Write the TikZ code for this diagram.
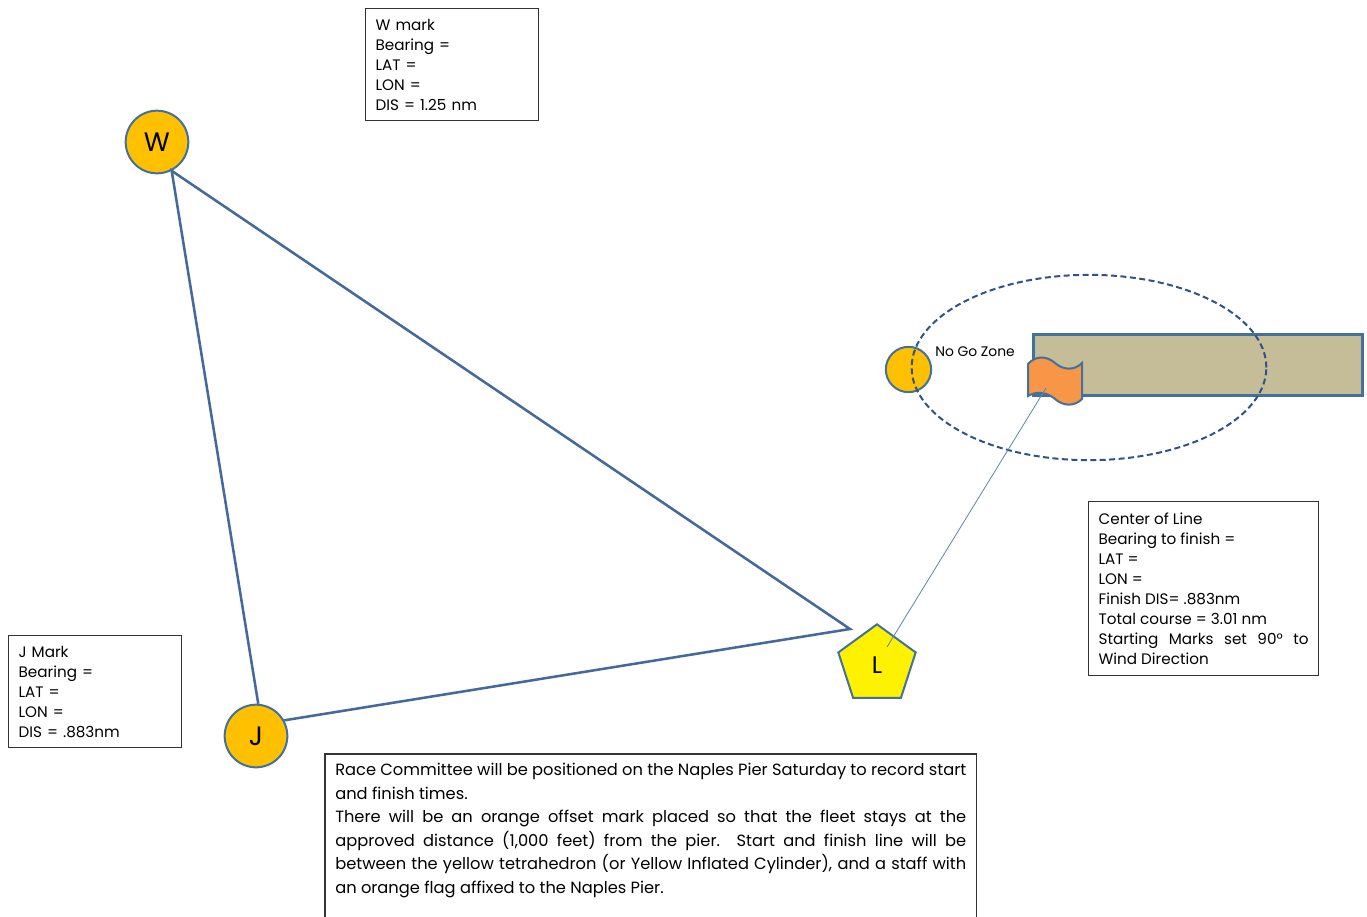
\documentclass[tikz,border=0pt]{standalone}
\usepackage{fontspec}
\setmainfont{Poppins}
\usetikzlibrary{shapes.geometric}
\definecolor{markorange}{HTML}{FFC000}
\definecolor{edgeblue}{HTML}{41719C}
\definecolor{courseblue}{HTML}{46699B}
\definecolor{zoneblue}{HTML}{2F5287}
\definecolor{pierfill}{HTML}{C4BD97}
\definecolor{flagorange}{HTML}{F79646}
\tikzset{
x=0.75pt, y=-0.75pt, % one unit is one pixel of the sketch, y runs downwards
buoy/.style={circle, draw=edgeblue, line width=1.5pt, fill=markorange, minimum size=47pt, inner sep=0pt, font=\fontsize{20}{22}\selectfont}, % the rounding marks
finishmark/.style={regular polygon, regular polygon sides=5, draw=edgeblue, line width=1.5pt, fill=yellow, minimum size=61pt, inner sep=0pt, font=\fontsize{18}{20}\selectfont}, % the start/finish mark
infobox/.style={draw=black!80, line width=0.9pt, anchor=north west, inner xsep=7.5pt, inner ysep=4pt, font=\fontsize{11.4}{15}\selectfont}, % the text boxes
leg/.style={draw=courseblue, line width=1.9pt}, % the course
sightline/.style={draw=edgeblue!85, line width=0.6pt}, % the finish line
}

\begin{document}
\begin{tikzpicture}

\useasboundingbox (0, 0) rectangle (1367, 917);
\fill[white] (0, 0) rectangle (1367, 917);

\node[buoy] at (157, 142) (W) {W};
\node[buoy] at (256, 736) (J) {J};
\node[finishmark] at (877, 665) (L) {L};
\node[buoy, minimum size=34pt] at (908.5, 369.5) (offset) {};
\coordinate (apex) at (850, 629);

\draw[leg] (J.29) -- (apex) -- (W.-63) -- (J.86);

% pier, staff flag and no go zone
\node[draw=edgeblue, line width=2.2pt, fill=pierfill, anchor=north west, minimum width=246.5pt, minimum height=45.75pt, inner sep=0pt] at (1032, 333) (pier) {};
\draw[draw=edgeblue, line width=1.5pt, fill=flagorange] (1028, 364) .. controls (1036, 355) and (1047, 356) .. (1055, 363) .. controls (1063, 370) and (1074, 371) .. (1082, 363) -- (1082, 399) .. controls (1074, 407) and (1063, 406) .. (1055, 399) .. controls (1047, 392) and (1036, 391) .. (1028, 396) -- cycle;
\node[ellipse, draw=zoneblue, line width=1.5pt, dash pattern=on 4.5pt off 2.6pt, minimum width=266pt, minimum height=139pt, inner sep=0pt] at (1089, 367.5) (zone) {};
\node[anchor=west, inner sep=0pt, font=\fontsize{10.4}{12}\selectfont] at (935, 352) (zonelabel) {No Go Zone};

\coordinate (staff) at (1046, 388);
\coordinate (sight) at (887, 647);
\draw[sightline] (staff) -- (sight);

% information boxes
\node[infobox, align=left, text width=114.75pt, minimum height=84pt] at (365, 8) (wbox) {W mark\\Bearing =\\LAT =\\LON =\\DIS = 1.25 nm};
\node[infobox, align=left, text width=114.75pt, minimum height=84pt] at (8, 635) (jbox) {J Mark\\Bearing =\\LAT =\\LON =\\DIS = .883nm};
\node[infobox, align=justify, text width=157.5pt, minimum height=130.5pt] at (1088, 501) (linebox) {Center of Line\\Bearing to finish =\\LAT =\\LON =\\Finish DIS= .883nm\\Total course = 3.01 nm\\Starting Marks set 90° to\linebreak Wind Direction};
\node[anchor=north west, inner xsep=7.5pt, inner ysep=7pt, align=justify, text width=473.25pt, font=\fontsize{12.2}{17.6}\selectfont] at (325, 754) (note) {Race Committee will be positioned on the Naples Pier Saturday to record start\linebreak and finish times.\\There will be an orange offset mark placed so that the fleet stays at the\linebreak approved distance (1,000 feet) from the pier.\ \ Start and finish line will be\linebreak between the yellow tetrahedron (or Yellow Inflated Cylinder), and a staff with\linebreak an orange flag affixed to the Naples Pier.};
\draw[draw=black!80, line width=0.9pt] (note.north west) rectangle ([yshift=-30pt]note.south east);

\end{tikzpicture}
\end{document}
